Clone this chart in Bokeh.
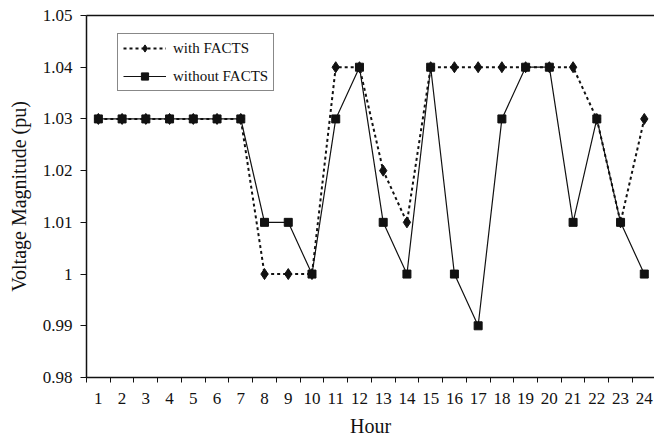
from bokeh.plotting import figure
from bokeh.models import (FixedTicker, LinearAxis, Legend, LegendItem, Range1d)
from bokeh.embed import file_html
from bokeh.resources import INLINE

hours = list(range(1, 25))
with_facts = [1.03, 1.03, 1.03, 1.03, 1.03, 1.03, 1.03, 1.00, 1.00, 1.00, 1.04, 1.04,
              1.02, 1.01, 1.04, 1.04, 1.04, 1.04, 1.04, 1.04, 1.04, 1.03, 1.01, 1.03]
without_facts = [1.03, 1.03, 1.03, 1.03, 1.03, 1.03, 1.03, 1.01, 1.01, 1.00, 1.03, 1.04,
                 1.01, 1.00, 1.04, 1.00, 0.99, 1.03, 1.04, 1.04, 1.01, 1.03, 1.01, 1.00]
y_ticks = [0.98, 0.99, 1.00, 1.01, 1.02, 1.03, 1.04, 1.05]
y_tick_labels = ["0.98", "0.99", "1", "1.01", "1.02", "1.03", "1.04", "1.05"]

FONT = "Liberation Serif"
INK = "#111111"

p = figure(width=654, height=439, output_backend="svg", toolbar_location=None,
           x_range=Range1d(0.5, 24.43), y_range=Range1d(0.98, 1.05),
           min_border_left=86, min_border_right=0, min_border_top=15, min_border_bottom=10)
p.outline_line_color = None
p.xgrid.visible = False
p.ygrid.visible = False
p.background_fill_color = "white"
p.border_fill_color = "white"

# x axis: labels at category centres, ticks at boundaries
xa = p.xaxis[0]
xa.ticker = FixedTicker(ticks=hours, minor_ticks=[h - 0.5 for h in hours] + [24.5])
xa.major_tick_line_color = None
xa.major_tick_out = 0
xa.major_tick_in = 0
xa.minor_tick_line_color = INK
xa.minor_tick_out = 5
xa.minor_tick_in = 0
xa.axis_line_color = INK
xa.axis_line_width = 1.5
xa.major_label_text_font = FONT
xa.major_label_text_font_size = "17px"
xa.major_label_text_color = INK
xa.major_label_standoff = 10
xa.axis_label = "Hour"
xa.axis_label_text_font = FONT
xa.axis_label_text_font_size = "20px"
xa.axis_label_text_font_style = "normal"
xa.axis_label_text_color = INK
xa.axis_label_standoff = 8

ya = p.yaxis[0]
ya.ticker = FixedTicker(ticks=y_ticks, minor_ticks=[])
ya.major_label_overrides = {t: l for t, l in zip(y_ticks, y_tick_labels)}
ya.major_tick_out = 6
ya.major_tick_in = 0
ya.major_tick_line_color = INK
ya.minor_tick_line_color = None
ya.axis_line_color = INK
ya.axis_line_width = 1.5
ya.major_label_text_font = FONT
ya.major_label_text_font_size = "17px"
ya.major_label_text_color = INK
ya.major_label_standoff = 8
ya.axis_label = "Voltage Magnitude (pu)"
ya.axis_label_text_font = FONT
ya.axis_label_text_font_size = "20px"
ya.axis_label_text_font_style = "normal"
ya.axis_label_text_color = INK
ya.axis_label_standoff = 10

# top border line
top = LinearAxis(ticker=FixedTicker(ticks=[]), axis_line_color=INK, axis_line_width=1.5,
                 major_tick_line_color=None, minor_tick_line_color=None,
                 major_label_text_font_size="0px")
p.add_layout(top, "above")

l1 = p.line(hours, with_facts, line_color=INK, line_width=2, line_dash="3 3")
s1 = p.scatter(hours, with_facts, marker="diamond", size=11, fill_color=INK, line_color=INK)
l2 = p.line(hours, without_facts, line_color=INK, line_width=1.2)
s2 = p.scatter(hours, without_facts, marker="square", size=8, fill_color=INK, line_color=INK)

legend = Legend(items=[LegendItem(label="with FACTS", renderers=[l1, s1]),
                       LegendItem(label="without FACTS", renderers=[l2, s2])],
                location=(31, 286), orientation="vertical",
                label_text_font=FONT, label_text_font_size="15px", label_text_color=INK,
                glyph_width=43, glyph_height=18, label_height=18, label_standoff=7,
                padding=5, spacing=10, margin=0,
                border_line_color=INK, border_line_width=1, background_fill_color="white",
                background_fill_alpha=1)
p.add_layout(legend, "center")

open("out.html", "w").write(file_html(p, INLINE))
